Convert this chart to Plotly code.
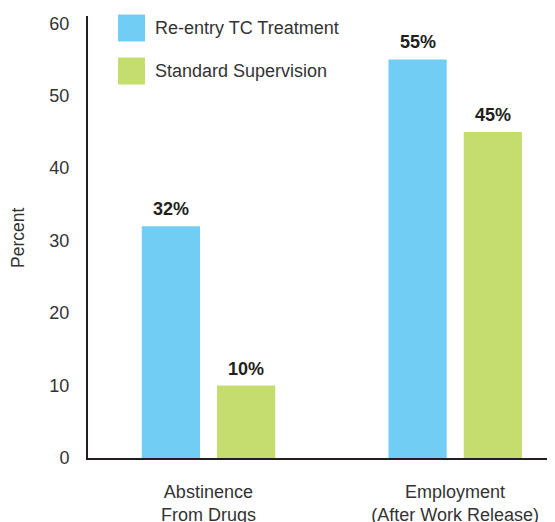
import plotly.graph_objects as go

categories = ["Abstinence<br>From Drugs", "Employment<br>(After Work Release)"]
series_names = ["Re-entry TC Treatment", "Standard Supervision"]
reentry_tc = [32, 55]
standard_sup = [10, 45]
y_ticks = [0, 10, 20, 30, 40, 50, 60]

colors = ["#72CDF4", "#C5DD6E"]
PAGE_OFF = 8  # default body margin of the html page
W, H = 555 - PAGE_OFF, 522 - PAGE_OFF
# plot area in page pixels: x 88..555, y 16..458
L, R, T, B = 88 - PAGE_OFF, 0, 16 - PAGE_OFF, 64
FONT = "Liberation Sans"
TXT = "#333333"


def px_x(p):
    return (p - PAGE_OFF - L) / (W - L - R)


def px_y(p):
    return (H - B - (p - PAGE_OFF)) / (H - T - B)


x_pos = list(range(len(categories)))
bar_w = 0.236
offsets = [-0.27, 0.035]

fig = go.Figure()
for name, vals, col, off in zip(series_names, [reentry_tc, standard_sup], colors, offsets):
    fig.add_trace(go.Bar(
        x=x_pos, y=vals, name=name, marker=dict(color=col, line=dict(width=0)),
        width=bar_w, offset=off, showlegend=False,
    ))

annotations = []
for vals, off in zip([reentry_tc, standard_sup], offsets):
    for xi, v in zip(x_pos, vals):
        annotations.append(dict(
            x=xi + off + bar_w / 2, y=v, xref="x", yref="y",
            text=f"<b>{v}%</b>", showarrow=False, yanchor="bottom", yshift=5,
            font=dict(family=FONT, size=18, color="#231F20"),
        ))

# Legend (manual, large swatches)
shapes = []
leg_rows = [28, 71]
for name, col, cy in zip(series_names, colors, leg_rows):
    shapes.append(dict(
        type="rect", xref="paper", yref="paper",
        x0=px_x(118), x1=px_x(145), y0=px_y(cy + 13.5), y1=px_y(cy - 13.5),
        fillcolor=col, line=dict(width=0),
    ))
    annotations.append(dict(
        x=px_x(153), y=px_y(cy), xref="paper", yref="paper",
        text=name, showarrow=False, xanchor="left", yanchor="middle",
        font=dict(family=FONT, size=18, color=TXT),
    ))

annotations.append(dict(
    x=px_x(18), y=px_y(238), xref="paper", yref="paper", text="Percent",
    textangle=-90, showarrow=False, xanchor="center", yanchor="middle",
    font=dict(family=FONT, size=17.5, color=TXT),
))

fig.update_layout(
    width=W, height=H,
    margin=dict(l=L, r=R, t=T, b=B, pad=0),
    plot_bgcolor="white", paper_bgcolor="white",
    annotations=annotations, shapes=shapes,
    showlegend=False,
    xaxis=dict(
        range=[-0.488, 1.405], tickvals=x_pos, ticktext=categories,
        showline=True, linecolor="#231F20", linewidth=2, ticks="",
        showgrid=False, zeroline=False, ticklabelstandoff=16, automargin=False,
        tickfont=dict(family=FONT, size=18, color=TXT),
    ),
    yaxis=dict(
        range=[0, 61], tickvals=y_ticks,
        showline=True, linecolor="#231F20", linewidth=2, ticks="",
        showgrid=False, zeroline=False, ticklabelstandoff=13, automargin=False,
        tickfont=dict(family=FONT, size=18, color=TXT),
    ),
)

fig.write_html("out.html")
